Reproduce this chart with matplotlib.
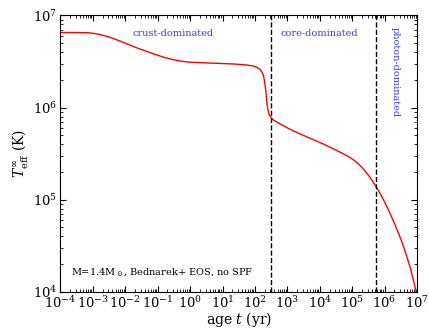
import numpy as np
import matplotlib
matplotlib.use("Agg")
from matplotlib import pyplot as plt
from matplotlib.ticker import LogLocator, NullFormatter

plt.rcParams['font.family'] = 'serif'
plt.rcParams['font.serif'] = ['DejaVu Serif']
plt.rcParams['mathtext.fontset'] = 'dejavuserif'

# cooling curve (log10 of age in yr, log10 of T in K)
log_age = [-4.0, -3.55, -3.14, -2.83, -2.52, -2.32, -2.11, -1.855, -1.60, -1.34,
           -1.08, -0.83, -0.57, -0.31, -0.06, 0.46, 1.0, 1.39, 1.747, 1.952,
           2.055, 2.157, 2.21, 2.26, 2.29, 2.32, 2.343, 2.364, 2.383, 2.415,
           2.445, 2.506, 2.568, 2.722, 2.877, 3.083, 3.392, 3.70, 4.009, 4.318,
           4.627, 4.78, 4.935, 5.06, 5.19, 5.30, 5.40, 5.55, 5.707, 5.913,
           6.12, 6.324, 6.53, 6.685, 6.81, 6.91, 6.975]
log_temp = [6.814, 6.814, 6.812, 6.797, 6.768, 6.743, 6.714, 6.678, 6.642, 6.61,
            6.577, 6.548, 6.523, 6.505, 6.494, 6.485, 6.478, 6.472, 6.462, 6.451,
            6.437, 6.415, 6.389, 6.353, 6.299, 6.226, 6.155, 6.064, 6.01, 5.956,
            5.92, 5.887, 5.866, 5.833, 5.804, 5.764, 5.714, 5.667, 5.620, 5.570,
            5.516, 5.489, 5.458, 5.428, 5.39, 5.352, 5.312, 5.243, 5.16, 5.037,
            4.89, 4.728, 4.547, 4.385, 4.24, 4.096, 4.0]

# boundaries between regimes (yr)
boundaries = [310.0, 5.4e5]

age = 10.0 ** np.array(log_age)
temp = 10.0 ** np.array(log_temp)

fig = plt.figure(figsize=(4.29, 3.28), dpi=100)
ax = fig.add_axes([0.141, 0.110, 0.831, 0.843])

ax.plot(age, temp, color='red', lw=1.0)
for b in boundaries:
    ax.axvline(b, color='k', ls='--', lw=1.0)

ax.set_xscale('log')
ax.set_yscale('log')
ax.set_xlim(1e-4, 1e7)
ax.set_ylim(1e4, 1e7)
ax.set_xticks([10.0 ** k for k in range(-4, 8)])
ax.xaxis.set_minor_locator(LogLocator(base=10, subs=np.arange(2, 10), numticks=100))
ax.xaxis.set_minor_formatter(NullFormatter())
ax.yaxis.set_minor_locator(LogLocator(base=10, subs=np.arange(2, 10), numticks=100))
ax.yaxis.set_minor_formatter(NullFormatter())

ax.tick_params(which='both', direction='in', top=True, right=True, labelsize=9.5)
ax.tick_params(which='major', length=4, pad=2.5)
ax.tick_params(which='minor', length=2)

ax.set_xlabel('age $t$ (yr)', fontsize=10, labelpad=-1)
ax.set_ylabel(r'$T_{\rm eff}^{\infty}$ (K)', fontsize=10, labelpad=2)

blue = '#3a3aff'
ax.text(0.3, 6.4e6, 'crust-dominated', color=blue, fontsize=7, ha='center', va='center')
ax.text(1.0e4, 6.4e6, 'core-dominated', color=blue, fontsize=7, ha='center', va='center')
ax.text(2.1e6, 2.4e6, 'photon-dominated', color=blue, fontsize=7, ha='center', va='center',
        rotation=-90)
ax.text(2.07e-4, 1.66e4, r'M=1.4M$_\odot$, Bednarek+ EOS, no SPF', fontsize=7,
        ha='left', va='center')

fig.savefig('out.png', dpi=100)
plt.close()
